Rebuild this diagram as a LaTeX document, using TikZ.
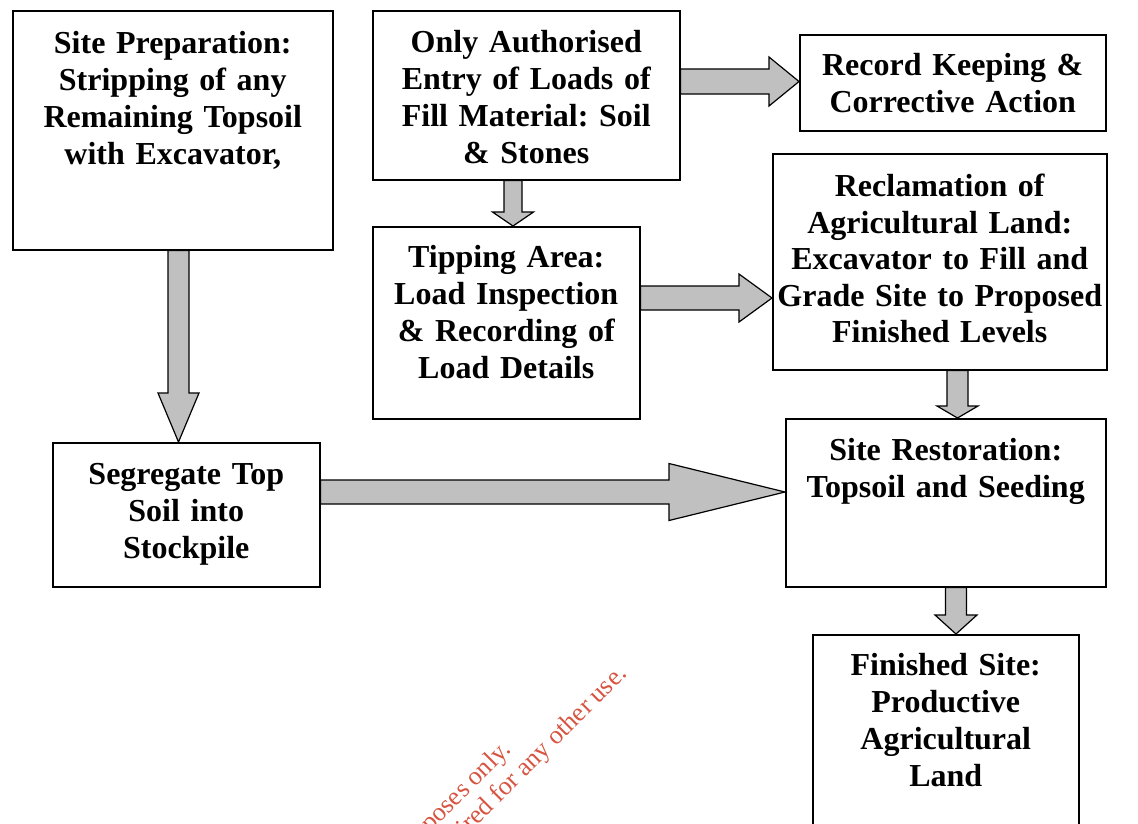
\documentclass[tikz,border=0pt]{standalone}
\usepackage{fontspec}
\setmainfont{Liberation Serif}
\usetikzlibrary{calc}
\frenchspacing

\definecolor{arrowgray}{RGB}{192,192,192}
\definecolor{stampred}{RGB}{214,84,64}

\tikzset{
  stage/.style={draw, line width=1.5pt, fill=white, align=center, inner sep=0pt,
    anchor=north west, font=\bfseries\fontsize{32}{37}\selectfont},
  blockarrow/.style={draw=black, line width=1.2pt, fill=arrowgray, line join=miter},
  stamp/.style={text=stampred, inner sep=0pt, rotate=45, anchor=base east,
    font=\fontsize{26}{30}\selectfont}
}

% fat arrow pointing down: from, to, x, half shaft, half head, head length
\newcommand{\blockdown}[6]{%
  \draw[blockarrow] let \p1=(#1.south), \p2=(#2.north) in
    (#3-#4,\y1) -- (#3-#4,\y2+#6pt) -- (#3-#5,\y2+#6pt) -- (#3,\y2)
    -- (#3+#5,\y2+#6pt) -- (#3+#4,\y2+#6pt) -- (#3+#4,\y1) -- cycle;}
% fat arrow pointing right: from, to, y, half shaft, half head, head length
\newcommand{\blockright}[6]{%
  \draw[blockarrow] let \p1=(#1.east), \p2=(#2.west) in
    (\x1,#3-#4) -- (\x2-#6pt,#3-#4) -- (\x2-#6pt,#3-#5) -- (\x2,#3)
    -- (\x2-#6pt,#3+#5) -- (\x2-#6pt,#3+#4) -- (\x1,#3+#4) -- cycle;}

\begin{document}
\begin{tikzpicture}[x=1pt,y=-1pt]

\useasboundingbox (0,0) rectangle (1138,823);
\clip (0,0) rectangle (1138,823);

% boxes
\node[stage, text width=320pt, text height=43pt, text depth=196pt] (prep) at (12,10)
  {Site Preparation:\\Stripping of any\\Remaining Topsoil\\with Excavator,};
\node[stage, text width=307pt, text height=42pt, text depth=127pt] (entry) at (372,10)
  {Only Authorised\\Entry of Loads of\\Fill Material: Soil\\\& Stones};
\node[stage, text width=306pt, text height=41pt, text depth=55pt] (record) at (799,34)
  {Record Keeping \&\\Corrective Action};
\node[stage, text width=267pt, text height=41pt, text depth=151pt] (tipping) at (372,226)
  {Tipping Area:\\Load Inspection\\\& Recording of\\Load Details};
\node[stage, text width=334pt, text height=43pt, text depth=173pt,
  font=\bfseries\fontsize{32}{36.5}\selectfont] (reclaim) at (772,153)
  {Reclamation of\\Agricultural Land:\\Excavator to Fill and\\Grade Site to Proposed\\Finished Levels};
\node[stage, text width=267pt, text height=42pt, text depth=102pt] (segregate) at (52,442)
  {Segregate Top\\Soil into\\Stockpile};
\node[stage, text width=320pt, text height=42pt, text depth=126pt] (restore) at (785,418)
  {Site Restoration:\\Topsoil and Seeding};
\node[stage, text width=266pt, text height=41pt, text depth=171pt] (finished) at (812,634)
  {Finished Site:\\Productive\\Agricultural\\Land};

% fat arrows
\blockdown{prep}{segregate}{178.5}{10.5}{20.5}{49}
\blockdown{entry}{tipping}{513}{9}{20.5}{14}
\blockdown{reclaim}{restore}{957.5}{10.5}{20.5}{12}
\blockdown{restore}{finished}{956}{10.5}{21}{19}
\blockright{entry}{record}{81.5}{12.5}{24.5}{30}
\blockright{tipping}{reclaim}{298}{12}{24}{33}
\blockright{segregate}{restore}{492}{12}{28.5}{116}

% stamp
\node[stamp] (stampa) at (512,751) {poses only.};
\node[stamp] (stampb) at (628,675) {ired for any other use.};

\end{tikzpicture}
\end{document}
